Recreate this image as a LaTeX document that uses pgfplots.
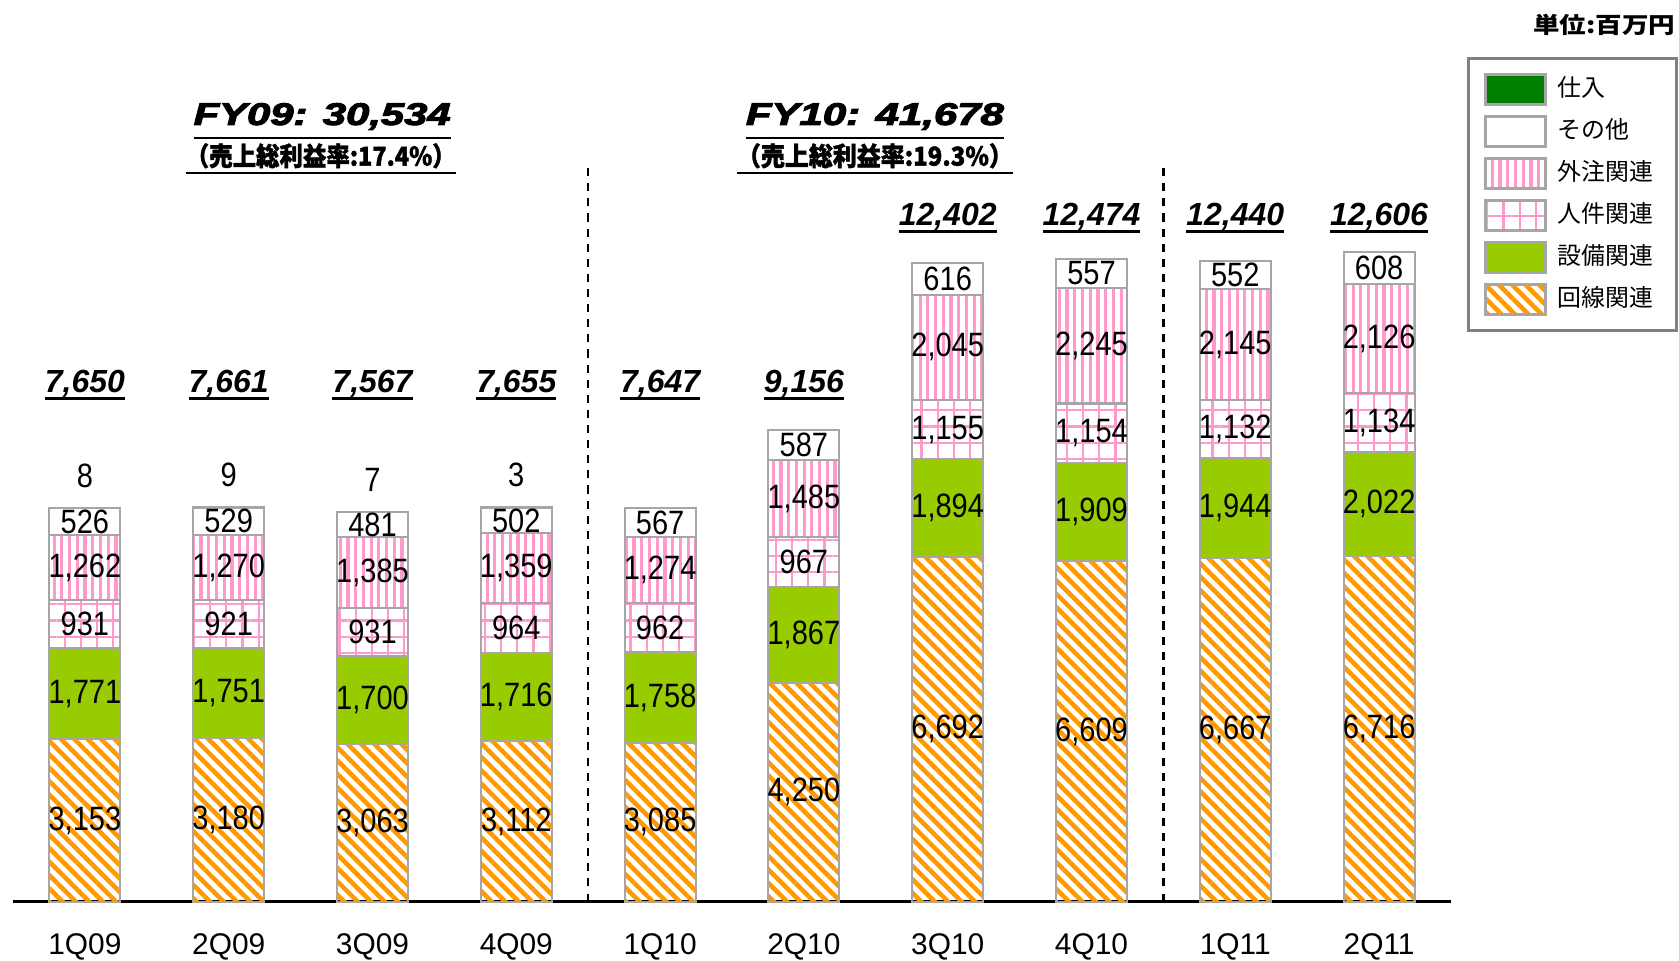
\documentclass[border=0pt]{standalone}
\usepackage{fontspec}
\setmainfont{Liberation Sans}
\newfontfamily\cjk{Noto Sans CJK JP}[AutoFakeSlant=0.2]
\newfontfamily\lblfont{Liberation Sans}[FakeStretch=0.86]
\newfontfamily\titlefont{Liberation Sans}[BoldItalicFeatures={FakeBold=3}]
\newfontfamily\cjkt{Noto Sans CJK JP}[AutoFakeSlant=0.2, BoldItalicFeatures={FakeBold=1.5}]
\usepackage{graphicx}
\usepackage{pgfplots}
\pgfplotsset{compat=1.18}
\usepackage{pgfplotstable}
\usetikzlibrary{patterns.meta}

\definecolor{kaisen}{HTML}{FF9900}
\definecolor{setsubi}{HTML}{99CC00}
\definecolor{pinkc}{HTML}{FF99CC}
\definecolor{shiire}{HTML}{008000}
\definecolor{bord}{HTML}{A6A6A6}

\pgfplotstableread{
x kaisen setsubi jinken gaichu sonota shiire
0 3153 1771 931 1262 526 8
1 3180 1751 921 1270 529 9
2 3063 1700 931 1385 481 7
3 3112 1716 964 1359 502 3
4 3085 1758 962 1274 567 0
5 4250 1867 967 1485 587 0
6 6692 1894 1155 2045 616 0
7 6609 1909 1154 2245 557 0
8 6667 1944 1132 2145 552 0
9 6716 2022 1134 2126 608 0
}\costs

\newcommand\myul[3][-2pt]{\setbox0\hbox{#3}\rlap{\rule[#1]{\wd0}{#2}}\box0}
\newcommand\totl[1]{\myul[-2pt]{0.75pt}{\fontsize{9.1}{10}\selectfont\bfseries\itshape #1}}

\pgfkeys{/pgf/number format/.cd, fixed, precision=0, 1000 sep={,}, assume math mode=true}

\pgfplotsset{
  labcontent/.style={
    point meta=explicit,
    nodes near coords={\pgfmathfloatifflags{\pgfplotspointmeta}{0}{}{\pgfmathprintnumber{\pgfplotspointmeta}}},
  },
  seglabel/.style={
    labcontent,
    every node near coord/.style={anchor=center,
      font=\lblfont\fontsize{9.6}{10}\selectfont, text=black, inner sep=0pt},
  },
  toplabel/.style={
    labcontent,
    every node near coord/.style={anchor=center, yshift=9.2pt,
      font=\lblfont\fontsize{9.6}{10}\selectfont, text=black, inner sep=0pt},
  },
  swatch/.style={legend image code/.code={%
    \draw[##1,draw=bord,line width=0.8pt] (0pt,-4.3pt) rectangle (17pt,4.3pt);
    \path (18.2pt,0pt);}},
  barbase/.style={draw=bord, line width=0.6pt, swatch},
}

\begin{document}
\begin{tikzpicture}
\useasboundingbox (0,0) rectangle (16.79cm,9.6cm);
\begin{axis}[
  at={(0.13cm,0.584cm)}, anchor=south west,
  scale only axis, width=14.38cm, height=8.961cm,
  xmin=-0.5, xmax=9.5, ymin=0, ymax=17400,
  ybar stacked, bar width=7.1mm,
  axis x line=bottom, axis y line=none,
  x axis line style={-, line width=0.9pt, black},
  xtick={0,...,9},
  xticklabels={1Q09,2Q09,3Q09,4Q09,1Q10,2Q10,3Q10,4Q10,1Q11,2Q11},
  major tick length=0pt,
  xticklabel style={anchor=base, yshift=-15.1pt, font=\fontsize{8.5}{10}\selectfont},
  clip=false,
  legend cell align=left,
  reverse legend,
  legend style={at={(1.0111,0.9428)}, anchor=north west, draw=gray, line width=0.9pt,
    fill=white, font=\cjk\fontsize{6.8}{8}\selectfont, inner xsep=4.5pt, inner ysep=3.2pt,
    row sep=0.75pt},
]
\addplot[barbase, pattern={Lines[angle=-45,distance=2.7pt,line width=1.3pt]},
  pattern color=kaisen, seglabel] table[x=x,y=kaisen,meta=kaisen]{\costs};
\addlegendentry{回線関連}
\addplot[barbase, fill=setsubi, seglabel] table[x=x,y=setsubi,meta=setsubi]{\costs};
\addlegendentry{設備関連}
\addplot[barbase, pattern={Hatch[angle=0,distance=4.6pt,line width=0.6pt]},
  pattern color=pinkc, seglabel] table[x=x,y=jinken,meta=jinken]{\costs};
\addlegendentry{人件関連}
\addplot[barbase, pattern={Lines[angle=90,distance=2.2pt,line width=0.9pt]},
  pattern color=pinkc, seglabel] table[x=x,y=gaichu,meta=gaichu]{\costs};
\addlegendentry{外注関連}
\addplot[barbase, fill=white, seglabel] table[x=x,y=sonota,meta=sonota]{\costs};
\addlegendentry{その他}
\addplot[barbase, fill=shiire, toplabel] table[x=x,y=shiire,meta=shiire]{\costs};
\addlegendentry{仕入}

% totals
\node[anchor=base] at (axis cs:0,9880) {\totl{7,650}};
\node[anchor=base] at (axis cs:1,9880) {\totl{7,661}};
\node[anchor=base] at (axis cs:2,9880) {\totl{7,567}};
\node[anchor=base] at (axis cs:3,9880) {\totl{7,655}};
\node[anchor=base] at (axis cs:4,9880) {\totl{7,647}};
\node[anchor=base] at (axis cs:5,9880) {\totl{9,156}};
\node[anchor=base] at (axis cs:6,13120) {\totl{12,402}};
\node[anchor=base] at (axis cs:7,13120) {\totl{12,474}};
\node[anchor=base] at (axis cs:8,13120) {\totl{12,440}};
\node[anchor=base] at (axis cs:9,13120) {\totl{12,606}};

% separators
\draw[black, line width=0.7pt, dash pattern=on 2.3pt off 2pt] (axis cs:3.5,0) -- (axis cs:3.5,14360);
\draw[black, line width=0.7pt, dash pattern=on 2.3pt off 2pt] (axis cs:7.5,0) -- (axis cs:7.5,14283);

% fiscal year titles
\node[anchor=base, inner sep=0pt] at (axis cs:1.650,15080)
  {\myul[-4.1pt]{0.8pt}{\resizebox{2.57cm}{\height}{\titlefont\fontsize{8.9}{10}\selectfont\bfseries\itshape FY09: 30,534}}};
\node[anchor=base, inner sep=0pt] at (axis cs:1.640,14290)
  {\myul[-2.4pt]{0.65pt}{\resizebox{2.70cm}{\height}{\cjkt\fontsize{7.4}{8}\selectfont\bfseries\itshape （売上総利益率:17.4\%）}}};
\node[anchor=base, inner sep=0pt] at (axis cs:5.494,15080)
  {\myul[-4.1pt]{0.8pt}{\resizebox{2.58cm}{\height}{\titlefont\fontsize{8.9}{10}\selectfont\bfseries\itshape FY10: 41,678}}};
\node[anchor=base, inner sep=0pt] at (axis cs:5.494,14290)
  {\myul[-2.4pt]{0.65pt}{\resizebox{2.76cm}{\height}{\cjkt\fontsize{7.4}{8}\selectfont\bfseries\itshape （売上総利益率:19.3\%）}}};
\end{axis}
\node[anchor=base east, inner sep=0pt] at (16.76cm,9.27cm)
  {\resizebox{1.42cm}{\height}{\cjk\fontsize{6.4}{8}\selectfont\bfseries 単位:百万円}};
\end{tikzpicture}
\end{document}
